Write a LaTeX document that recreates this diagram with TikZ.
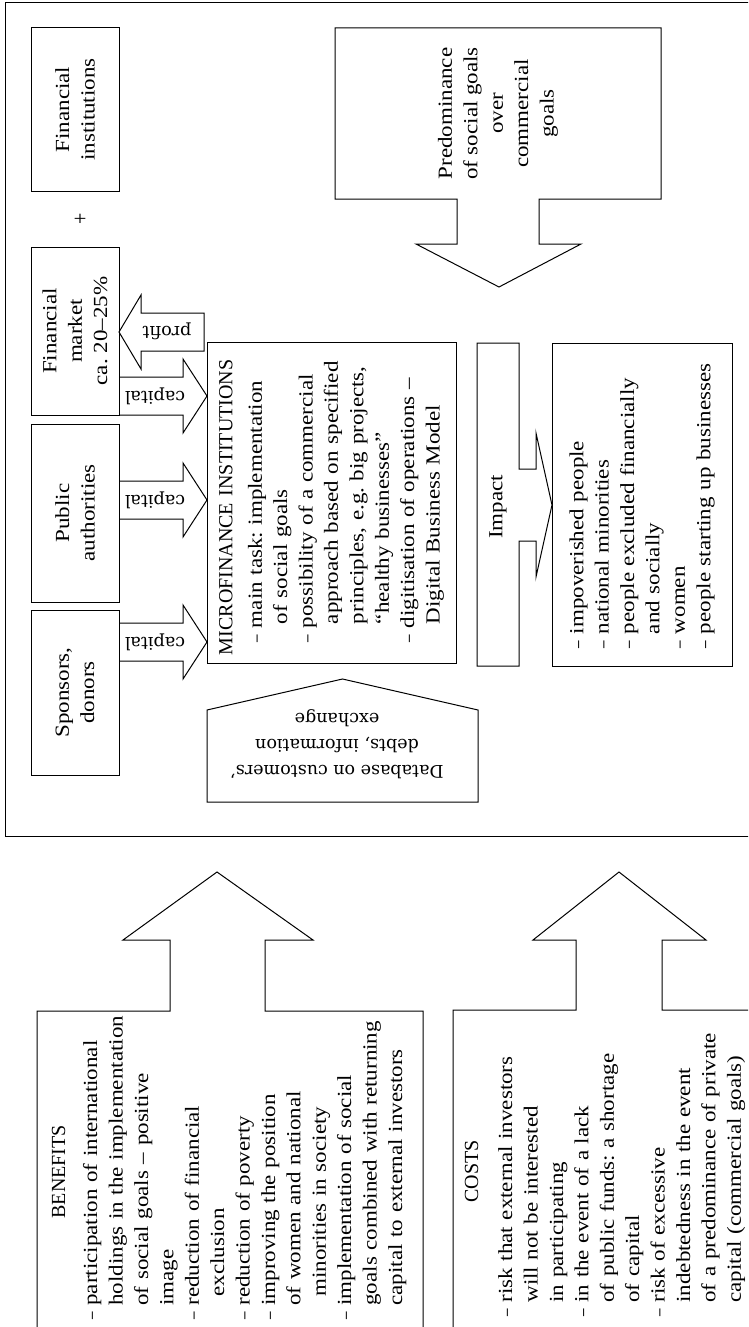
\documentclass[tikz,border=0pt]{standalone}
\usepackage{graphicx}
\usepackage{fontspec}
\setmainfont{Liberation Serif}[FakeStretch=1.15]
\newfontfamily\capsfont{Liberation Serif}
\newfontfamily\labelfont{DejaVu Serif}
\newcommand\mainsize{\fontsize{20pt}{25.4pt}\selectfont\frenchspacing}
\newcommand\dsh{\makebox[14pt][l]{\scalebox{0.65}[1]{–}}}
\newcommand\ind{\hspace*{14pt}}

\begin{document}
\begin{tikzpicture}[
    x=1pt, y=-1pt, line width=1pt,
    box/.style={draw, rotate=90, inner sep=0pt, align=center, font=\mainsize},
    txt/.style={rotate=90, inner sep=0pt, align=left, font=\mainsize},
    lbl/.style={rotate=180, inner sep=0pt, font=\labelfont\fontsize{17.5pt}{26pt}\selectfont}
]
    \useasboundingbox (0,0) rectangle (748,1327);
    \clip (0,0) rectangle (748,1327);

    % Outer frame
    \draw (760,3) -- (5,3) -- (5,836) -- (760,836);

    % Sources of capital
    \node[box, minimum width=163pt, minimum height=88pt] (finInst) at (75,109.5) {Financial\\institutions};
    \node[font=\mainsize] (plus) at (80,220) {+};
    \node[box, minimum width=168pt, minimum height=88pt] (finMarket) at (75,331) {Financial\\market\\ca. 20–25\%};
    \node[box, minimum width=178pt, minimum height=88pt] (pubAuth) at (75,513) {Public\\authorities};
    \node[box, minimum width=165pt, minimum height=88pt] (sponsors) at (75,692.5) {Sponsors,\\donors};

    % Capital arrows
    \foreach \cy/\nm in {396/capFm, 500/capPa, 642/capSp} {
        \draw ({119},{\cy-19}) -- ({183},{\cy-19}) -- ({183},{\cy-37}) -- ({207},{\cy})
              -- ({183},{\cy+37}) -- ({183},{\cy+19}) -- ({119},{\cy+19});
        \node[lbl] (\nm) at (155,\cy) {capital};
    }

    % Profit arrow
    \draw (204,313) -- (141,313) -- (141,295) -- (119,332) -- (141,369) -- (141,351) -- (204,351) -- cycle;
    \node[lbl] (profit) at (167,331) {profit};

    % Microfinance institutions
    \node[box, align=left, text width=305pt, minimum width=321pt, minimum height=249pt] (mfi) at (331.5,502.5) {%
        {\capsfont MICROFINANCE INSTITUTIONS}\\[4pt]
        \hspace*{13pt}\dsh main task: implementation\\
        \hspace*{31pt}of social goals\\
        \hspace*{13pt}\dsh possibility of a commercial\\
        \hspace*{31pt}approach based on specified\\
        \hspace*{31pt}principles, e.g. big projects,\\
        \hspace*{31pt}“healthy businesses”\\
        \hspace*{13pt}\dsh digitisation of operations –\\
        \hspace*{31pt}Digital Business Model};

    % Database
    \draw (207,802) -- (478,802) -- (478,710) -- (342.5,679) -- (207,710) -- cycle;
    \node[lbl, align=center] (database) at (337,744) {Database on customers’\\debts, information\\exchange};

    % Impact
    \draw (477,343) -- (519,343) -- (519,469) -- (536,469) -- (536,433) -- (552,505) -- (536,577)
          -- (536,541) -- (519,541) -- (519,666) -- (477,666) -- cycle;
    \node[txt] (impact) at (498,507) {Impact};

    % Target groups
    \node[box, align=left, text width=287pt, minimum width=323pt, minimum height=180pt] (groups) at (642,504.5) {%
        \dsh impoverished people\\
        \dsh national minorities\\
        \dsh people excluded financially\\
        \ind and socially\\
        \dsh women\\
        \dsh people starting up businesses};

    % Predominance of social goals
    \draw (335,28) -- (661,28) -- (661,199) -- (539,199) -- (539,244) -- (581,244) -- (499,287)
          -- (416,244) -- (457,244) -- (457,199) -- (335,199) -- cycle;
    \node[txt, align=center] (predom) at (498,113.5) {Predominance\\of social goals\\over\\commercial\\goals};

    % Benefits
    \draw (37,1340) -- (37,1011) -- (170,1011) -- (170,940) -- (123,940) -- (217,872) -- (313,940)
          -- (265,940) -- (265,1011) -- (423,1011) -- (423,1340);
    \node[txt, anchor=north west, text width=330pt] (benefits) at (51.5,1320) {%
        \hspace*{101pt}{\capsfont BENEFITS}\\[6.6pt]
        \dsh participation of international\\
        \ind holdings in the implementation\\
        \ind of social goals – positive\\
        \ind image\\
        \dsh reduction of financial\\
        \ind\hspace*{9pt}exclusion\\
        \dsh reduction of poverty\\
        \dsh improving the position\\
        \ind of women and national\\
        \ind\hspace*{9pt}minorities in society\\
        \dsh implementation of social\\
        \ind goals combined with returning\\
        \ind capital to external investors};

    % Costs
    \draw (453,1340) -- (453,1010) -- (576,1010) -- (576,940) -- (533,940) -- (619,872) -- (706,940)
          -- (662,940) -- (662,1010) -- (760,1010);
    \node[txt, anchor=north west, text width=310pt] (costs) at (464.5,1317) {%
        \hspace*{114pt}{\capsfont COSTS}\\[8.6pt]
        \dsh risk that external investors\\
        \ind will not be interested\\
        \ind in participating\\
        \dsh in the event of a lack\\
        \ind of public funds: a shortage\\
        \ind of capital\\
        \dsh risk of excessive\\
        \ind indebtedness in the event\\
        \ind of a predominance of private\\
        \ind capital (commercial goals)};
\end{tikzpicture}
\end{document}
